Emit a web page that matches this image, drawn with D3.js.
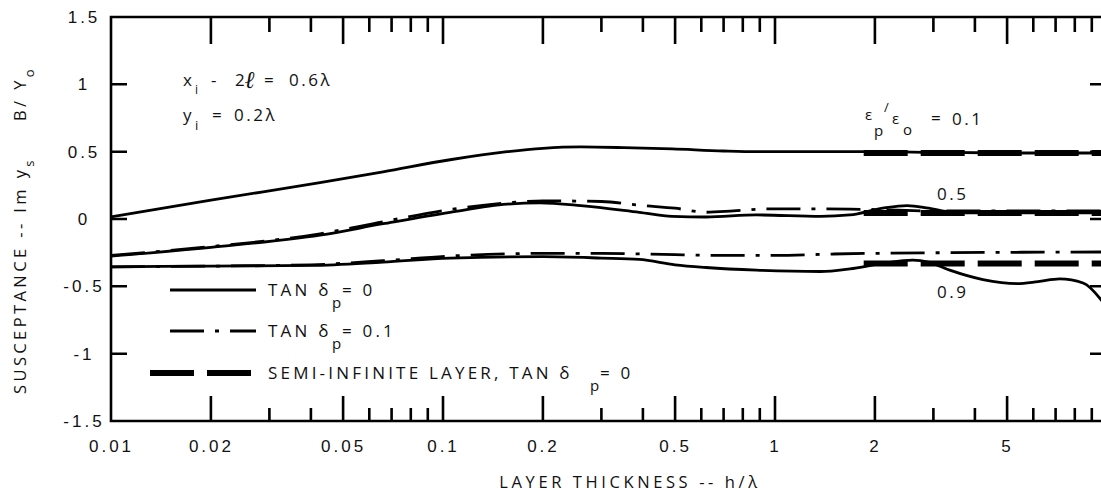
<!DOCTYPE html>
<html>
<head>
<meta charset="utf-8">
<script src="https://cdn.jsdelivr.net/npm/d3@7"></script>
<style>
  body { margin: 0; background: #fff; }
  svg { display: block; font-family: "Open Sans", sans-serif; }
  .tick text { font-size: 17px; letter-spacing: 3px; fill: #111; }
</style>
</head>
<body>
<svg width="1101" height="500"></svg>
<script>
// axis ticks
const xMajor = [0.01, 0.02, 0.05, 0.1, 0.2, 0.5, 1, 2, 5];
const xMinor = [0.03, 0.04, 0.06, 0.07, 0.08, 0.09, 0.3, 0.4, 0.6, 0.7, 0.8, 0.9, 3, 4, 6, 7, 8, 9];
const yTicks = [1.5, 1, 0.5, 0, -0.5, -1, -1.5];
const yLabels = ["1.5", "1", "0.5", "0", "-0.5", "-1", "-1.5"];

// eps_p/eps_o = 0.1, tan d = 0
const hTop = [0.01, 0.02, 0.0426, 0.066, 0.105, 0.156, 0.2, 0.26, 0.35, 0.49, 0.7, 0.88, 1.4, 2, 3, 5, 7, 10];
const topSolid = [0.015, 0.14, 0.27, 0.35, 0.44, 0.50, 0.525, 0.535, 0.53, 0.52, 0.505, 0.50, 0.50, 0.50, 0.495, 0.49, 0.49, 0.49];

// eps_p/eps_o = 0.5
const hMid = [0.01, 0.02, 0.0426, 0.066, 0.105, 0.156, 0.196, 0.26, 0.39, 0.49, 0.62, 0.88, 1.37, 1.68, 2.11, 2.5, 2.9, 3.4, 4, 6, 10];
const midSolid = [-0.275, -0.21, -0.12, -0.035, 0.05, 0.11, 0.12, 0.10, 0.05, 0.02, 0.015, 0.03, 0.02, 0.03, 0.08, 0.10, 0.08, 0.05, 0.045, 0.045, 0.045];
const hMidDash = [0.01, 0.02, 0.0426, 0.066, 0.105, 0.156, 0.2, 0.3, 0.4, 0.5, 0.62, 0.75, 0.95, 1.4, 2, 3, 10];
const midDash = [-0.27, -0.205, -0.11, -0.02, 0.07, 0.12, 0.135, 0.13, 0.10, 0.08, 0.05, 0.06, 0.075, 0.075, 0.07, 0.06, 0.06];

// eps_p/eps_o = 0.9
const hLow = [0.01, 0.02, 0.04, 0.066, 0.105, 0.2, 0.3, 0.39, 0.5, 0.62, 0.88, 1.37, 1.68, 2.11, 2.6, 2.9, 3.36, 4.23, 5.36, 6.2, 7.2, 8.47, 9.6, 10];
const lowSolid = [-0.355, -0.35, -0.345, -0.32, -0.29, -0.28, -0.29, -0.30, -0.34, -0.36, -0.38, -0.39, -0.37, -0.33, -0.305, -0.32, -0.38, -0.45, -0.48, -0.465, -0.445, -0.475, -0.6, -0.66];
const hLowDash = [0.01, 0.02, 0.04, 0.066, 0.105, 0.2, 0.3, 0.5, 0.7, 1, 1.5, 2, 10];
const lowDash = [-0.355, -0.35, -0.34, -0.31, -0.275, -0.255, -0.255, -0.265, -0.27, -0.27, -0.26, -0.255, -0.245];

// semi-infinite layer, tan d = 0
const hSemi = [1.85, 10];
const semiLevels = [0.49, 0.045, -0.33];

const svg = d3.select("svg");
const margin = { left: 111, right: 1107, top: 17, bottom: 421 };

const x = d3.scaleLog().domain([0.01, 10]).range([margin.left, margin.right]);
const y = d3.scaleLinear().domain([-1.5, 1.5]).range([margin.bottom, margin.top]);

const solidStyle = { dash: null, width: 2.8 };
const dashDotStyle = { dash: "34,11,4,11", width: 2.8 };
const semiStyle = { dash: "44,13", width: 6 };

// tick labels through d3 axes
function labelAxis(axis, pos, vals, fmt) {
    const g = svg.append("g").attr("transform", pos)
        .call(axis.tickValues(vals).tickSize(0).tickPadding(19).tickFormat(fmt));
    g.select(".domain").remove();
    g.selectAll(".tick line").remove();
    return g;
}
labelAxis(d3.axisBottom(x), `translate(0,${margin.bottom})`, xMajor, d => String(d));
labelAxis(d3.axisLeft(y), `translate(${margin.left},0)`, yTicks, (d, i) => yLabels[i])
    .selectAll("text").attr("x", -27).attr("text-anchor", "middle");

// curves
const lineGen = d3.line()
    .x(d => x(d[0]))
    .y(d => y(d[1]))
    .curve(d3.curveMonotoneX);

function drawCurve(hs, vs, style) {
    svg.append("path")
        .datum(hs.map((h, i) => [h, vs[i]]))
        .attr("d", lineGen)
        .attr("fill", "none")
        .attr("stroke", "#000")
        .attr("stroke-width", style.width)
        .attr("stroke-dasharray", style.dash);
}

drawCurve(hTop, topSolid, solidStyle);
drawCurve(hMid, midSolid, solidStyle);
drawCurve(hMidDash, midDash, dashDotStyle);
drawCurve(hLow, lowSolid, solidStyle);
drawCurve(hLowDash, lowDash, dashDotStyle);
semiLevels.forEach(v => drawCurve(hSemi, hSemi.map(() => v), semiStyle));

// text pieces placed one by one: [text, x, y, size, extra]
function pieces(list, spacing) {
    list.forEach(p => {
        const t = svg.append("text")
            .attr("x", p[1]).attr("y", p[2])
            .attr("font-size", p[3]).attr("letter-spacing", spacing)
            .attr("fill", "#111").text(p[0]);
        if (p[4] === "script") {
            t.attr("font-family", "DejaVu Serif").attr("font-style", "italic").attr("font-weight", "bold");
        }
    });
}

// legend
const legendRows = [
    { y: 290, style: solidStyle, x0: 170, label: "TAN δ", tail: "= 0", tailX: 342 },
    { y: 331, style: dashDotStyle, x0: 170, label: "TAN δ", tail: "= 0.1", tailX: 342 },
    { y: 373, style: semiStyle, x0: 150, label: "SEMI-INFINITE LAYER, TAN δ", tail: "= 0", tailX: 600 }
];
legendRows.forEach(r => {
    svg.append("path")
        .attr("d", `M${r.x0},${r.y}H256`)
        .attr("fill", "none")
        .attr("stroke", "#000")
        .attr("stroke-width", r.style.width)
        .attr("stroke-dasharray", r.style.dash);
    pieces([
        [r.label, 268, r.y + 6, 17],
        ["p", r.tailX - 10, r.y + 18, 15],
        [r.tail, r.tailX, r.y + 6, 17]
    ], 3.2);
});

// annotations
pieces([
    ["x", 183, 86, 17], ["i", 195, 94, 12], ["-", 211, 86, 17], ["2", 235, 86, 17],
    ["ℓ", 245, 88, 24, "script"], ["=", 264, 86, 17], ["0.6λ", 289, 86, 17],
    ["y", 183, 121, 17], ["i", 195, 130, 13], ["=", 212, 121, 17], ["0.2λ", 234, 121, 17],
    ["ε", 865, 120, 15], ["p", 874, 136, 15], ["/", 884, 112, 13], ["ε", 892, 124, 15],
    ["o", 903, 135, 15], ["=", 931, 124, 17], ["0.1", 952, 125, 17],
    ["0.5", 937, 200, 17],
    ["0.9", 937, 298, 17]
], 2.5);

// axis titles
svg.append("text")
    .attr("x", 630).attr("y", 488)
    .attr("text-anchor", "middle")
    .attr("font-size", 16.5).attr("letter-spacing", 3.6).attr("fill", "#111")
    .text("LAYER THICKNESS -- h/λ");

const yTitle = svg.append("text")
    .attr("transform", "translate(26,394) rotate(-90)")
    .attr("font-size", 16.5).attr("letter-spacing", 3.4).attr("fill", "#111");
yTitle.append("tspan").text("SUSCEPTANCE -- Im y");
yTitle.append("tspan").attr("dy", 8).attr("font-size", 13).text("s");
yTitle.append("tspan").attr("dy", -8).attr("dx", 36).text("B/ Y");
yTitle.append("tspan").attr("dy", 8).attr("font-size", 13).text("o");

// frame and inward tick marks as one path
const xTickD = (vals, y0, len) => vals.map(v => `M${x(v).toFixed(1)},${y0}V${y0 + len}`).join("");
const yTickD = (vals, x0, len) => vals.map(v => `M${x0},${y(v).toFixed(1)}H${x0 + len}`).join("");
const frameD = `M${margin.left},${margin.top}H${margin.right}V${margin.bottom}H${margin.left}Z`
    + xTickD(xMajor.slice(1), margin.bottom, -25)
    + xTickD(xMinor, margin.bottom, -13)
    + xTickD(xMajor.slice(1), margin.top, 27)
    + xTickD(xMinor, margin.top, 15)
    + yTickD(yTicks.slice(1, -1), margin.left, 16)
    + yTickD(yTicks.slice(1, -1), margin.right, -17);
svg.append("path")
    .attr("d", frameD)
    .attr("fill", "none").attr("stroke", "#000").attr("stroke-width", 2.6);
</script>
</body>
</html>
